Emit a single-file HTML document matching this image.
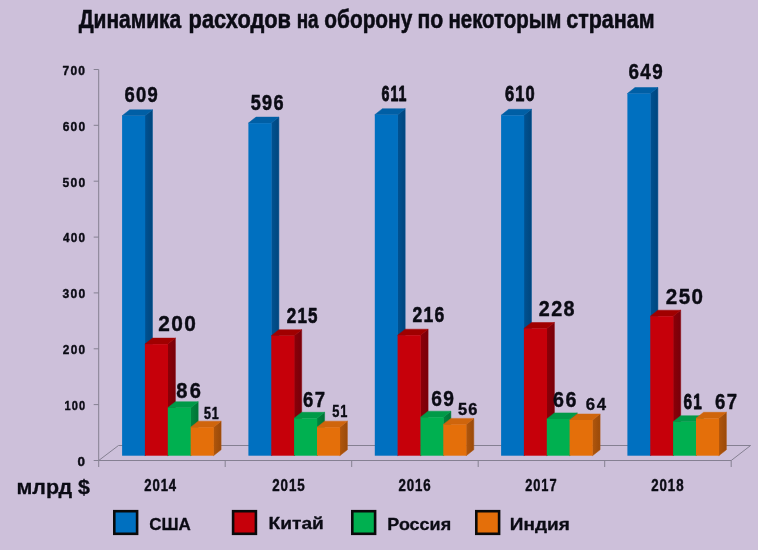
<!DOCTYPE html>
<html lang="ru">
<head>
<meta charset="utf-8">
<title>Динамика расходов на оборону по некоторым странам</title>
<style>
html,body{margin:0;padding:0;background:#cdc0da;}
body{width:758px;height:550px;overflow:hidden;}
svg{display:block;}
text{font-family:"Liberation Sans",sans-serif;font-weight:bold;fill:#0b0b14;stroke:#0b0b14;stroke-linejoin:round;}
</style>
</head>
<body>
<svg width="758" height="550" viewBox="0 0 758 550">
<defs>
<linearGradient id="s0" x1="0" y1="0" x2="1" y2="0"><stop offset="0" stop-color="#005292"/><stop offset="1" stop-color="#00467e"/></linearGradient>
<linearGradient id="s1" x1="0" y1="0" x2="1" y2="0"><stop offset="0" stop-color="#8c0008"/><stop offset="1" stop-color="#78000a"/></linearGradient>
<linearGradient id="s2" x1="0" y1="0" x2="1" y2="0"><stop offset="0" stop-color="#008640"/><stop offset="1" stop-color="#007236"/></linearGradient>
<linearGradient id="s3" x1="0" y1="0" x2="1" y2="0"><stop offset="0" stop-color="#b0560c"/><stop offset="1" stop-color="#9a4a0a"/></linearGradient>
</defs>
<rect width="758" height="550" fill="#cdc0da"/>
<g fill="none" stroke="#858092" stroke-width="1">
<path d="M98.7 69.5 V460.5"/>
<path d="M98.7 460.5 H731.2 L750.6 445.5 H118.5 Z"/>
<path d="M93.7 460.5 H98.7"/>
<path d="M93.7 404.6 H98.7"/>
<path d="M93.7 348.8 H98.7"/>
<path d="M93.7 292.9 H98.7"/>
<path d="M93.7 237.1 H98.7"/>
<path d="M93.7 181.2 H98.7"/>
<path d="M93.7 125.3 H98.7"/>
<path d="M93.7 69.5 H98.7"/>
<path d="M98.7 460.5 V467.0"/>
<path d="M225.2 460.5 V467.0"/>
<path d="M351.7 460.5 V467.0"/>
<path d="M478.2 460.5 V467.0"/>
<path d="M604.7 460.5 V467.0"/>
<path d="M731.2 460.5 V467.0"/>
</g>
<g>
<path d="M144.9 115.8 L152.5 109.8 V449.7 L144.9 455.7 Z" fill="url(#s0)" stroke="#005292" stroke-width="0.5"/>
<path d="M122.1 115.8 L129.7 109.8 H152.5 L144.9 115.8 Z" fill="#005fa5" stroke="#005fa5" stroke-width="0.5"/>
<rect x="122.1" y="115.8" width="23.1" height="339.9" fill="#0070c0"/>
<path d="M167.8 344.1 L175.4 338.1 V449.7 L167.8 455.7 Z" fill="url(#s1)" stroke="#8c0008" stroke-width="0.5"/>
<path d="M144.9 344.1 L152.5 338.1 H175.4 L167.8 344.1 Z" fill="#a00000" stroke="#a00000" stroke-width="0.5"/>
<rect x="144.9" y="344.1" width="23.1" height="111.6" fill="#c6000a"/>
<path d="M190.7 407.7 L198.2 401.7 V449.7 L190.7 455.7 Z" fill="url(#s2)" stroke="#008640" stroke-width="0.5"/>
<path d="M167.8 407.7 L175.4 401.7 H198.2 L190.7 407.7 Z" fill="#009a48" stroke="#009a48" stroke-width="0.5"/>
<rect x="167.8" y="407.7" width="23.1" height="48.0" fill="#00b050"/>
<path d="M213.5 427.2 L221.1 421.2 V449.7 L213.5 455.7 Z" fill="url(#s3)" stroke="#b0560c" stroke-width="0.5"/>
<path d="M190.7 427.2 L198.2 421.2 H221.1 L213.5 427.2 Z" fill="#cf650c" stroke="#cf650c" stroke-width="0.5"/>
<rect x="190.7" y="427.2" width="23.1" height="28.5" fill="#e46f0a"/>
</g>
<g>
<path d="M271.3 123.1 L278.9 117.1 V449.7 L271.3 455.7 Z" fill="url(#s0)" stroke="#005292" stroke-width="0.5"/>
<path d="M248.4 123.1 L256.0 117.1 H278.9 L271.3 123.1 Z" fill="#005fa5" stroke="#005fa5" stroke-width="0.5"/>
<rect x="248.4" y="123.1" width="23.1" height="332.6" fill="#0070c0"/>
<path d="M294.1 335.7 L301.7 329.7 V449.7 L294.1 455.7 Z" fill="url(#s1)" stroke="#8c0008" stroke-width="0.5"/>
<path d="M271.3 335.7 L278.9 329.7 H301.7 L294.1 335.7 Z" fill="#a00000" stroke="#a00000" stroke-width="0.5"/>
<rect x="271.3" y="335.7" width="23.1" height="120.0" fill="#c6000a"/>
<path d="M317.0 418.3 L324.6 412.3 V449.7 L317.0 455.7 Z" fill="url(#s2)" stroke="#008640" stroke-width="0.5"/>
<path d="M294.1 418.3 L301.7 412.3 H324.6 L317.0 418.3 Z" fill="#009a48" stroke="#009a48" stroke-width="0.5"/>
<rect x="294.1" y="418.3" width="23.1" height="37.4" fill="#00b050"/>
<path d="M339.8 427.2 L347.4 421.2 V449.7 L339.8 455.7 Z" fill="url(#s3)" stroke="#b0560c" stroke-width="0.5"/>
<path d="M317.0 427.2 L324.6 421.2 H347.4 L339.8 427.2 Z" fill="#cf650c" stroke="#cf650c" stroke-width="0.5"/>
<rect x="317.0" y="427.2" width="23.1" height="28.5" fill="#e46f0a"/>
</g>
<g>
<path d="M397.6 114.7 L405.2 108.7 V449.7 L397.6 455.7 Z" fill="url(#s0)" stroke="#005292" stroke-width="0.5"/>
<path d="M374.8 114.7 L382.4 108.7 H405.2 L397.6 114.7 Z" fill="#005fa5" stroke="#005fa5" stroke-width="0.5"/>
<rect x="374.8" y="114.7" width="23.1" height="341.0" fill="#0070c0"/>
<path d="M420.5 335.2 L428.1 329.2 V449.7 L420.5 455.7 Z" fill="url(#s1)" stroke="#8c0008" stroke-width="0.5"/>
<path d="M397.6 335.2 L405.2 329.2 H428.1 L420.5 335.2 Z" fill="#a00000" stroke="#a00000" stroke-width="0.5"/>
<rect x="397.6" y="335.2" width="23.1" height="120.5" fill="#c6000a"/>
<path d="M443.3 417.2 L450.9 411.2 V449.7 L443.3 455.7 Z" fill="url(#s2)" stroke="#008640" stroke-width="0.5"/>
<path d="M420.5 417.2 L428.1 411.2 H450.9 L443.3 417.2 Z" fill="#009a48" stroke="#009a48" stroke-width="0.5"/>
<rect x="420.5" y="417.2" width="23.1" height="38.5" fill="#00b050"/>
<path d="M466.2 424.4 L473.8 418.4 V449.7 L466.2 455.7 Z" fill="url(#s3)" stroke="#b0560c" stroke-width="0.5"/>
<path d="M443.3 424.4 L450.9 418.4 H473.8 L466.2 424.4 Z" fill="#cf650c" stroke="#cf650c" stroke-width="0.5"/>
<rect x="443.3" y="424.4" width="23.1" height="31.3" fill="#e46f0a"/>
</g>
<g>
<path d="M523.9 115.3 L531.5 109.3 V449.7 L523.9 455.7 Z" fill="url(#s0)" stroke="#005292" stroke-width="0.5"/>
<path d="M501.1 115.3 L508.7 109.3 H531.5 L523.9 115.3 Z" fill="#005fa5" stroke="#005fa5" stroke-width="0.5"/>
<rect x="501.1" y="115.3" width="23.1" height="340.4" fill="#0070c0"/>
<path d="M546.8 328.5 L554.4 322.5 V449.7 L546.8 455.7 Z" fill="url(#s1)" stroke="#8c0008" stroke-width="0.5"/>
<path d="M523.9 328.5 L531.5 322.5 H554.4 L546.8 328.5 Z" fill="#a00000" stroke="#a00000" stroke-width="0.5"/>
<rect x="523.9" y="328.5" width="23.1" height="127.2" fill="#c6000a"/>
<path d="M569.6 418.9 L577.2 412.9 V449.7 L569.6 455.7 Z" fill="url(#s2)" stroke="#008640" stroke-width="0.5"/>
<path d="M546.8 418.9 L554.4 412.9 H577.2 L569.6 418.9 Z" fill="#009a48" stroke="#009a48" stroke-width="0.5"/>
<rect x="546.8" y="418.9" width="23.1" height="36.8" fill="#00b050"/>
<path d="M592.5 420.0 L600.1 414.0 V449.7 L592.5 455.7 Z" fill="url(#s3)" stroke="#b0560c" stroke-width="0.5"/>
<path d="M569.6 420.0 L577.2 414.0 H600.1 L592.5 420.0 Z" fill="#cf650c" stroke="#cf650c" stroke-width="0.5"/>
<rect x="569.6" y="420.0" width="23.1" height="35.7" fill="#e46f0a"/>
</g>
<g>
<path d="M650.3 93.5 L657.9 87.5 V449.7 L650.3 455.7 Z" fill="url(#s0)" stroke="#005292" stroke-width="0.5"/>
<path d="M627.4 93.5 L635.0 87.5 H657.9 L650.3 93.5 Z" fill="#005fa5" stroke="#005fa5" stroke-width="0.5"/>
<rect x="627.4" y="93.5" width="23.1" height="362.2" fill="#0070c0"/>
<path d="M673.1 316.2 L680.7 310.2 V449.7 L673.1 455.7 Z" fill="url(#s1)" stroke="#8c0008" stroke-width="0.5"/>
<path d="M650.3 316.2 L657.9 310.2 H680.7 L673.1 316.2 Z" fill="#a00000" stroke="#a00000" stroke-width="0.5"/>
<rect x="650.3" y="316.2" width="23.1" height="139.5" fill="#c6000a"/>
<path d="M696.0 421.7 L703.6 415.7 V449.7 L696.0 455.7 Z" fill="url(#s2)" stroke="#008640" stroke-width="0.5"/>
<path d="M673.1 421.7 L680.7 415.7 H703.6 L696.0 421.7 Z" fill="#009a48" stroke="#009a48" stroke-width="0.5"/>
<rect x="673.1" y="421.7" width="23.1" height="34.0" fill="#00b050"/>
<path d="M718.8 418.3 L726.4 412.3 V449.7 L718.8 455.7 Z" fill="url(#s3)" stroke="#b0560c" stroke-width="0.5"/>
<path d="M696.0 418.3 L703.6 412.3 H726.4 L718.8 418.3 Z" fill="#cf650c" stroke="#cf650c" stroke-width="0.5"/>
<rect x="696.0" y="418.3" width="23.1" height="37.4" fill="#e46f0a"/>
</g>
<rect x="114.3" y="511.2" width="22.8" height="22.6" fill="#0070c0" stroke="#0a0a0a" stroke-width="2.6"/>
<rect x="233.1" y="511.2" width="22.8" height="22.6" fill="#c6000a" stroke="#0a0a0a" stroke-width="2.6"/>
<rect x="352.3" y="511.2" width="22.8" height="22.6" fill="#00b050" stroke="#0a0a0a" stroke-width="2.6"/>
<rect x="476.3" y="511.2" width="22.8" height="22.6" fill="#e46f0a" stroke="#0a0a0a" stroke-width="2.6"/>
<text x="78.64" y="27.8" font-size="26.0" stroke-width="0.6" textLength="102.56" lengthAdjust="spacingAndGlyphs">Динамика</text>
<text x="188.62" y="27.8" font-size="26.0" stroke-width="0.6" textLength="102.35" lengthAdjust="spacingAndGlyphs">расходов</text>
<text x="296.63" y="27.8" font-size="26.0" stroke-width="0.6" textLength="21.95" lengthAdjust="spacingAndGlyphs">на</text>
<text x="324.34" y="27.8" font-size="26.0" stroke-width="0.6" textLength="87.92" lengthAdjust="spacingAndGlyphs">оборону</text>
<text x="417.42" y="27.8" font-size="26.0" stroke-width="0.6" textLength="25.76" lengthAdjust="spacingAndGlyphs">по</text>
<text x="448.41" y="27.8" font-size="26.0" stroke-width="0.6" textLength="112.98" lengthAdjust="spacingAndGlyphs">некоторым</text>
<text x="566.29" y="27.8" font-size="26.0" stroke-width="0.6" textLength="88.27" lengthAdjust="spacingAndGlyphs">странам</text>
<text x="77.55" y="465.8" font-size="13.3" stroke-width="0.4" letter-spacing="1.33" textLength="8.82" lengthAdjust="spacingAndGlyphs">0</text>
<text x="64.45" y="409.9" font-size="13.3" stroke-width="0.4" letter-spacing="1.33" textLength="21.74" lengthAdjust="spacingAndGlyphs">100</text>
<text x="62.87" y="354.1" font-size="13.3" stroke-width="0.4" letter-spacing="1.33" textLength="23.31" lengthAdjust="spacingAndGlyphs">200</text>
<text x="62.53" y="298.2" font-size="13.3" stroke-width="0.4" letter-spacing="1.33" textLength="23.84" lengthAdjust="spacingAndGlyphs">300</text>
<text x="62.97" y="242.4" font-size="13.3" stroke-width="0.4" letter-spacing="1.33" textLength="23.20" lengthAdjust="spacingAndGlyphs">400</text>
<text x="62.53" y="186.5" font-size="13.3" stroke-width="0.4" letter-spacing="1.33" textLength="23.80" lengthAdjust="spacingAndGlyphs">500</text>
<text x="62.69" y="130.6" font-size="13.3" stroke-width="0.4" letter-spacing="1.33" textLength="23.67" lengthAdjust="spacingAndGlyphs">600</text>
<text x="62.58" y="74.8" font-size="13.3" stroke-width="0.4" letter-spacing="1.33" textLength="23.65" lengthAdjust="spacingAndGlyphs">700</text>
<text x="124.46" y="101.5" font-size="22.8" stroke-width="0.53" letter-spacing="1.59" textLength="34.57" lengthAdjust="spacingAndGlyphs">609</text>
<text x="250.79" y="109.5" font-size="22.8" stroke-width="0.58" letter-spacing="1.59" textLength="33.90" lengthAdjust="spacingAndGlyphs">596</text>
<text x="381.49" y="100.5" font-size="22.8" stroke-width="0.9" letter-spacing="1.59" textLength="25.95" lengthAdjust="spacingAndGlyphs">611</text>
<text x="504.94" y="100.5" font-size="22.8" stroke-width="0.82" letter-spacing="1.59" textLength="30.86" lengthAdjust="spacingAndGlyphs">610</text>
<text x="628.56" y="78.5" font-size="22.8" stroke-width="0.46" letter-spacing="1.59" textLength="35.40" lengthAdjust="spacingAndGlyphs">649</text>
<text x="158.13" y="330.8" font-size="22.5" stroke-width="0.42" letter-spacing="1.57" textLength="39.18" lengthAdjust="spacingAndGlyphs">200</text>
<text x="286.84" y="322.6" font-size="22.5" stroke-width="0.69" letter-spacing="1.57" textLength="31.92" lengthAdjust="spacingAndGlyphs">215</text>
<text x="412.51" y="321.6" font-size="22.5" stroke-width="0.62" letter-spacing="1.57" textLength="32.86" lengthAdjust="spacingAndGlyphs">216</text>
<text x="538.85" y="315.6" font-size="22.5" stroke-width="0.42" letter-spacing="1.57" textLength="37.16" lengthAdjust="spacingAndGlyphs">228</text>
<text x="665.75" y="304.1" font-size="22.5" stroke-width="0.42" letter-spacing="1.57" textLength="38.67" lengthAdjust="spacingAndGlyphs">250</text>
<text x="176.31" y="397.6" font-size="22.8" stroke-width="0.42" letter-spacing="2.73" textLength="27.13" lengthAdjust="spacingAndGlyphs">86</text>
<text x="303.07" y="406.6" font-size="22.2" stroke-width="0.43" letter-spacing="1.55" textLength="23.22" lengthAdjust="spacingAndGlyphs">67</text>
<text x="431.18" y="405.6" font-size="22.2" stroke-width="0.42" letter-spacing="1.55" textLength="24.03" lengthAdjust="spacingAndGlyphs">69</text>
<text x="553.10" y="407.1" font-size="21.6" stroke-width="0.42" letter-spacing="1.52" textLength="24.61" lengthAdjust="spacingAndGlyphs">66</text>
<text x="683.57" y="408.9" font-size="21.4" stroke-width="0.78" letter-spacing="1.50" textLength="19.19" lengthAdjust="spacingAndGlyphs">61</text>
<text x="715.05" y="408.9" font-size="21.4" stroke-width="0.42" letter-spacing="1.50" textLength="23.25" lengthAdjust="spacingAndGlyphs">67</text>
<text x="204.02" y="418.6" font-size="16.6" stroke-width="0.53" letter-spacing="1.16" textLength="15.59" lengthAdjust="spacingAndGlyphs">51</text>
<text x="332.13" y="416.6" font-size="16.1" stroke-width="0.42" letter-spacing="1.12" textLength="16.04" lengthAdjust="spacingAndGlyphs">51</text>
<text x="457.93" y="415.4" font-size="17.2" stroke-width="0.42" letter-spacing="1.20" textLength="20.50" lengthAdjust="spacingAndGlyphs">56</text>
<text x="585.74" y="410.2" font-size="16.6" stroke-width="0.3" letter-spacing="1.66" textLength="22.01" lengthAdjust="spacingAndGlyphs">64</text>
<text x="144.29" y="491.1" font-size="16.2" stroke-width="0.45" letter-spacing="1.13" textLength="32.77" lengthAdjust="spacingAndGlyphs">2014</text>
<text x="272.29" y="491.1" font-size="16.2" stroke-width="0.45" letter-spacing="1.13" textLength="33.31" lengthAdjust="spacingAndGlyphs">2015</text>
<text x="398.43" y="491.1" font-size="16.2" stroke-width="0.45" letter-spacing="1.13" textLength="33.22" lengthAdjust="spacingAndGlyphs">2016</text>
<text x="525.31" y="491.1" font-size="16.2" stroke-width="0.45" letter-spacing="1.13" textLength="32.15" lengthAdjust="spacingAndGlyphs">2017</text>
<text x="651.29" y="491.1" font-size="16.2" stroke-width="0.45" letter-spacing="1.13" textLength="33.16" lengthAdjust="spacingAndGlyphs">2018</text>
<text x="16.48" y="493.5" font-size="20.4" stroke-width="0.3" textLength="73.44" lengthAdjust="spacingAndGlyphs">млрд $</text>
<text x="149.26" y="529.6" font-size="16.6" stroke-width="0.3" textLength="41.64" lengthAdjust="spacingAndGlyphs">США</text>
<text x="268.59" y="528.9" font-size="16.6" stroke-width="0.3" textLength="55.23" lengthAdjust="spacingAndGlyphs">Китай</text>
<text x="387.35" y="530.4" font-size="16.6" stroke-width="0.3" textLength="63.78" lengthAdjust="spacingAndGlyphs">Россия</text>
<text x="509.89" y="530.4" font-size="16.6" stroke-width="0.3" textLength="59.91" lengthAdjust="spacingAndGlyphs">Индия</text>
</svg>
</body>
</html>
